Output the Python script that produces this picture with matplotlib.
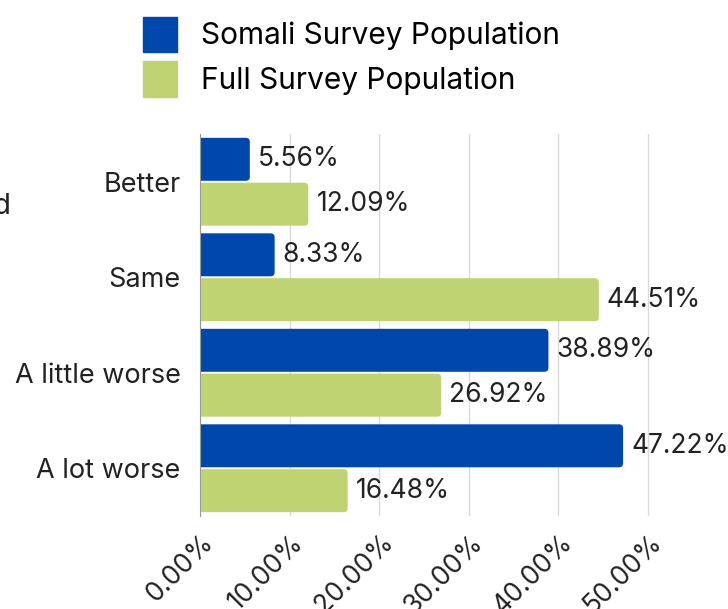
import matplotlib
matplotlib.use('Agg')
import matplotlib.pyplot as plt
import matplotlib.transforms as mtransforms
from matplotlib.patches import Patch, FancyBboxPatch
import numpy as np

plt.rcParams['font.family'] = ['Inter', 'DejaVu Sans']

categories = ['Better', 'Same', 'A little worse', 'A lot worse']
somali = [5.56, 8.33, 38.89, 47.22]
full = [12.09, 44.51, 26.92, 16.48]
series_names = ['Somali Survey Population', 'Full Survey Population']
xticks = [0, 10, 20, 30, 40, 50]

blue = '#0047ab'
green = '#bfd373'

fig = plt.figure(figsize=(7.28, 6.09), dpi=100)
ax = fig.add_axes([200 / 728, 1 - 516 / 609, 1 - 200 / 728, 382 / 609])

y = np.arange(len(categories))
h = 0.45
b1 = ax.barh(y - 0.235, somali, height=h, color=blue)
b2 = ax.barh(y + 0.235, full, height=h, color=green)

ax.set_ylim(len(categories) - 0.5, -0.5)
ax.set_xlim(0, 58.93)

# swap the plain bars for ones with slightly rounded corners
aspect = (8.96) / (95.5)   # x-px per unit / y-px per unit
rad = 0.45
for bars in (b1, b2):
    for bar in bars:
        x0, y0, w, hh = bar.get_x(), bar.get_y(), bar.get_width(), bar.get_height()
        fb = FancyBboxPatch((x0 - rad, y0), w + rad, hh,
                            boxstyle=f'round,pad=0,rounding_size={rad}',
                            mutation_aspect=aspect, facecolor=bar.get_facecolor(),
                            edgecolor='none')
        ax.add_patch(fb)
        bar.set_visible(False)

for bars, vals in ((b1, somali), (b2, full)):
    for bar, v in zip(bars, vals):
        ax.text(bar.get_width() + 0.9, bar.get_y() + bar.get_height() / 2,
                f'{v:.2f}%', va='center', ha='left', fontsize=19, color='#222222')

ax.set_yticks(y)
ax.set_yticklabels(categories, fontsize=19.5, color='#222222')
ax.set_xticks(xticks)
ax.set_xticklabels([f'{t:.2f}%' for t in xticks], fontsize=19, color='#222222',
                   rotation=45, ha='right', va='center', rotation_mode='anchor')
ax.tick_params(axis='both', length=0)
ax.tick_params(axis='y', pad=14)
ax.tick_params(axis='x', pad=10)
# nudge the rotated labels down/right like the original
shift = mtransforms.ScaledTranslation(10 / 100, -9 / 100, fig.dpi_scale_trans)
for lab in ax.get_xticklabels():
    lab.set_transform(lab.get_transform() + shift)
ax.grid(axis='x', color='#d9d9d9', linewidth=1)
ax.set_axisbelow(True)
for s in ['top', 'right', 'bottom']:
    ax.spines[s].set_visible(False)
ax.spines['left'].set_color('#999999')
ax.spines['left'].set_zorder(3)

fig.text(11 / 728, 1 - 206 / 609, 'Changed', ha='right', va='center',
         fontsize=21, color='#222222')

handles = [Patch(color=blue), Patch(color=green)]
fig.legend(handles, series_names, loc='upper left',
           bbox_to_anchor=(116 / 728, 1 + 10 / 609), frameon=False,
           fontsize=21.5, handlelength=1.13, handleheight=1.45,
           handletextpad=0.8, labelspacing=0.3)

fig.savefig('out.png', dpi=100)
